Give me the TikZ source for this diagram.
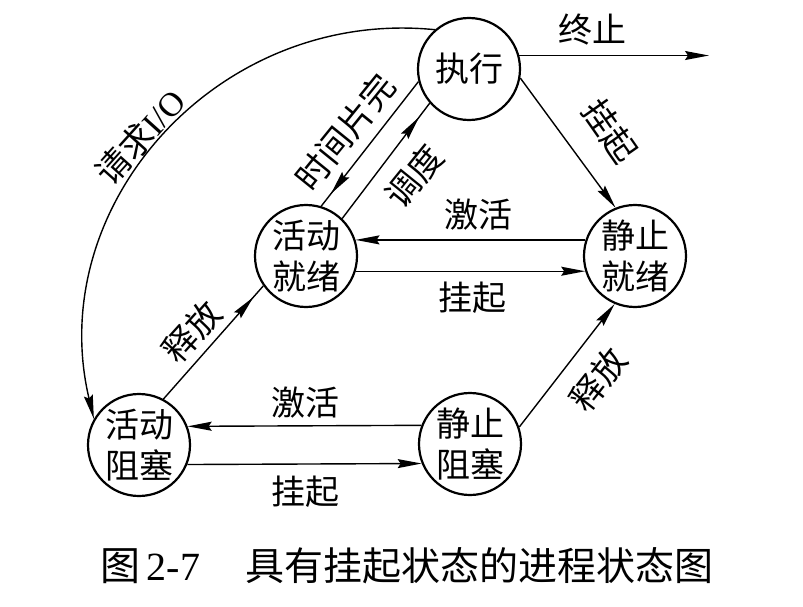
\documentclass[tikz,border=0pt]{standalone}
\usepackage{fontspec}
\setmainfont{Liberation Serif}
\newfontfamily\cjk{Noto Sans CJK SC}
\usetikzlibrary{arrows.meta,decorations.markings}
\begin{document}
\begin{tikzpicture}[x=1pt,y=-1pt,
  state/.style={circle, draw, line width=2.2pt, minimum size=102pt, inner sep=0pt,
    font=\cjk\fontsize{34}{41}\selectfont, align=center},
  lbl/.style={font=\cjk\fontsize{34}{40}\selectfont, inner sep=0pt},
  tipa/.tip={Stealth[length=24pt,width=9pt,inset=3pt]},
  arr/.style={line width=1.4pt, -{tipa}},
  marr/.style={line width=1.4pt, postaction={decorate},
    decoration={markings, mark=at position #1 with {\arrow{tipa}}}},
]
\useasboundingbox (0,0) rectangle (803,607);

% states
\node[state] (exec) at (469,69) {执行};
\node[state] (ar) at (306,256) {活动\\就绪};
\node[state] (sr) at (635,256) {静止\\就绪};
\node[state] (ab) at (139,445) {活动\\阻塞};
\node[state] (sb) at (470,444) {静止\\阻塞};
\coordinate (endT) at (709,55);

% connectors
\draw[arr] (exec.15) -- (exec.15 -| endT);
\draw[arr] (exec.-10) -- (sr.112);
\draw[marr=0.9] (exec.194) -- (ar.73);
\draw[marr=0.88] (ar.46) -- (exec.221);
\draw[arr] (sr.162) -- (ar.18);
\draw[arr] (ar.-17) -- (sr.197);
\draw[arr] (sb.159) -- (ab.21);
\draw[arr] (ab.-22) -- (sb.202);
\draw[marr=0.9] (ab.62) -- (ar.215);
\draw[arr] (sb.19) -- (sr.247);
\draw[arr] (exec.131) .. controls (218,8) and (43,205) .. (ab.150);

% labels
\node[lbl] (lT) at (592,30) {终止};
\node[lbl, rotate=-55] (lG1) at (610,131) {挂起};
\node[lbl] (lJ1) at (478,215) {激活};
\node[lbl] (lG2) at (472,298) {挂起};
\node[lbl] (lJ2) at (305,403) {激活};
\node[lbl] (lG3) at (305,492) {挂起};
\node[lbl, rotate=52] (lS1) at (598,380) {释放};
\node[lbl, rotate=48] (lS2) at (192,332) {释放};
\node[lbl, rotate=51] (lTS) at (345,132) {时间片完};
\node[lbl, rotate=51] (lD) at (414,176) {调度};
\node[lbl, rotate=48] (lIO) at (140,137) {请求\rmfamily I/O};

% caption
\node[anchor=base west, inner sep=0pt, font=\fontsize{40}{48}\selectfont] (capA) at (100,580) {{\cjk 图}\,2-7};
\node[anchor=base west, inner sep=0pt, font=\cjk\fontsize{39}{48}\selectfont] (capB) at (245,580) {具有挂起状态的进程状态图};
\end{tikzpicture}
\end{document}
